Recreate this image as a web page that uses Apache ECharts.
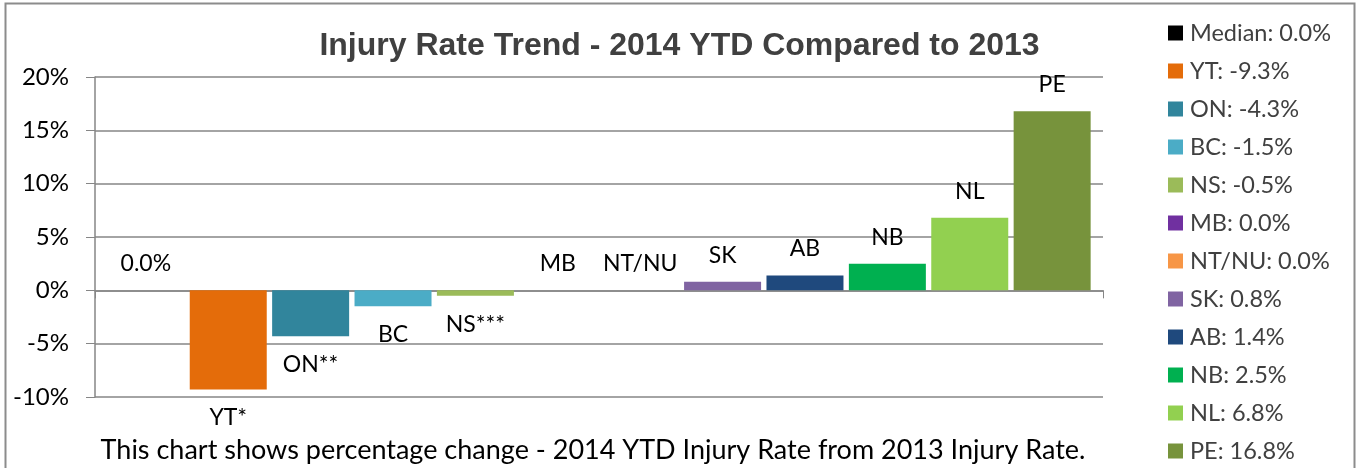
<!DOCTYPE html>
<html>
<head>
<meta charset="utf-8">
<script src="https://cdn.jsdelivr.net/npm/echarts@6/dist/echarts.min.js"></script>
<style>
  html, body { margin: 0; padding: 0; background: #fff; }
  #chart { width: 1359px; height: 468px; }
</style>
</head>
<body>
<div id="chart"></div>
<script>
// provinces, one series each (Excel-style: single category, 12 series)
var regions = ["Median", "YT", "ON", "BC", "NS", "MB", "NT/NU", "SK", "AB", "NB", "NL", "PE"];
var barLabels = ["0.0%", "YT*", "ON**", "BC", "NS***", "MB", "NT/NU", "SK", "AB", "NB", "NL", "PE"];
var changePct = [0.0, -9.3, -4.3, -1.5, -0.5, 0.0, 0.0, 0.8, 1.4, 2.5, 6.8, 16.8];
var yTicks = [-10, -5, 0, 5, 10, 15, 20];

var palette = ["#000000", "#E46C0A", "#31859C", "#4BACC6", "#9BBB59", "#7030A0",
               "#F79646", "#8064A2", "#1F497D", "#00B050", "#92D050", "#77933C"];

var FONT = "Lato";
var chart = echarts.init(document.getElementById("chart"));

var series = regions.map(function (r, i) {
  var v = changePct[i];
  return {
    name: r + ": " + v.toFixed(1) + "%",
    type: "bar",
    barWidth: 77,
    barGap: "7%",
    itemStyle: { color: palette[i] },
    label: {
      show: true,
      position: v < 0 ? "bottom" : "top",
      distance: v < 0 ? 17 : 15,
      color: "#000",
      fontFamily: FONT,
      fontSize: 23,
      formatter: function () { return barLabels[i]; }
    },
    data: [v]
  };
});

chart.setOption({
  animation: false,
  color: palette,
  title: {
    text: "Injury Rate Trend - 2014 YTD Compared to 2013",
    left: "center",
    top: 25,
    textStyle: {
      fontFamily: "Liberation Sans",
      fontWeight: "bold",
      fontSize: 32,
      color: "#404040"
    }
  },
  legend: {
    orient: "vertical",
    left: 1168,
    top: 21,
    height: 470,
    padding: 0,
    icon: "rect",
    itemWidth: 15,
    itemHeight: 15,
    itemGap: 14,
    selectedMode: false,
    textStyle: { fontFamily: FONT, fontSize: 23.5, color: "#404040", lineHeight: 24, padding: [0, 0, 0, 2] }
  },
  grid: { left: 95, right: 256, top: 77, bottom: 71 },
  xAxis: {
    type: "category",
    data: [""],
    axisLine: { onZero: true, lineStyle: { color: "#868686", width: 1.5 } },
    axisTick: { show: true, length: 8, lineStyle: { color: "#868686" } },
    axisLabel: { show: false }
  },
  yAxis: {
    type: "value",
    min: yTicks[0],
    max: yTicks[yTicks.length - 1],
    interval: 5,
    axisLine: { show: true, lineStyle: { color: "#868686", width: 1.5 } },
    axisTick: { show: true, length: 9, lineStyle: { color: "#868686" } },
    splitLine: { lineStyle: { color: "#868686", width: 1.5 } },
    axisLabel: {
      margin: 26,
      color: "#000",
      fontFamily: FONT,
      fontSize: 24,
      formatter: function (v) { return v + "%"; }
    }
  },
  graphic: [
    {
      type: "rect",
      shape: { x: 5.5, y: 3.5, width: 1349, height: 480 },
      style: { fill: null, stroke: "#8c8c8c", lineWidth: 2 },
      silent: true
    },
    {
      type: "text",
      x: 593,
      y: 450,
      style: {
        text: "This chart shows percentage change - 2014 YTD Injury Rate from 2013 Injury Rate.",
        fontFamily: FONT,
        fontSize: 27,
        fill: "#000",
        textAlign: "center",
        textVerticalAlign: "middle"
      }
    }
  ],
  series: series
});
</script>
</body>
</html>
